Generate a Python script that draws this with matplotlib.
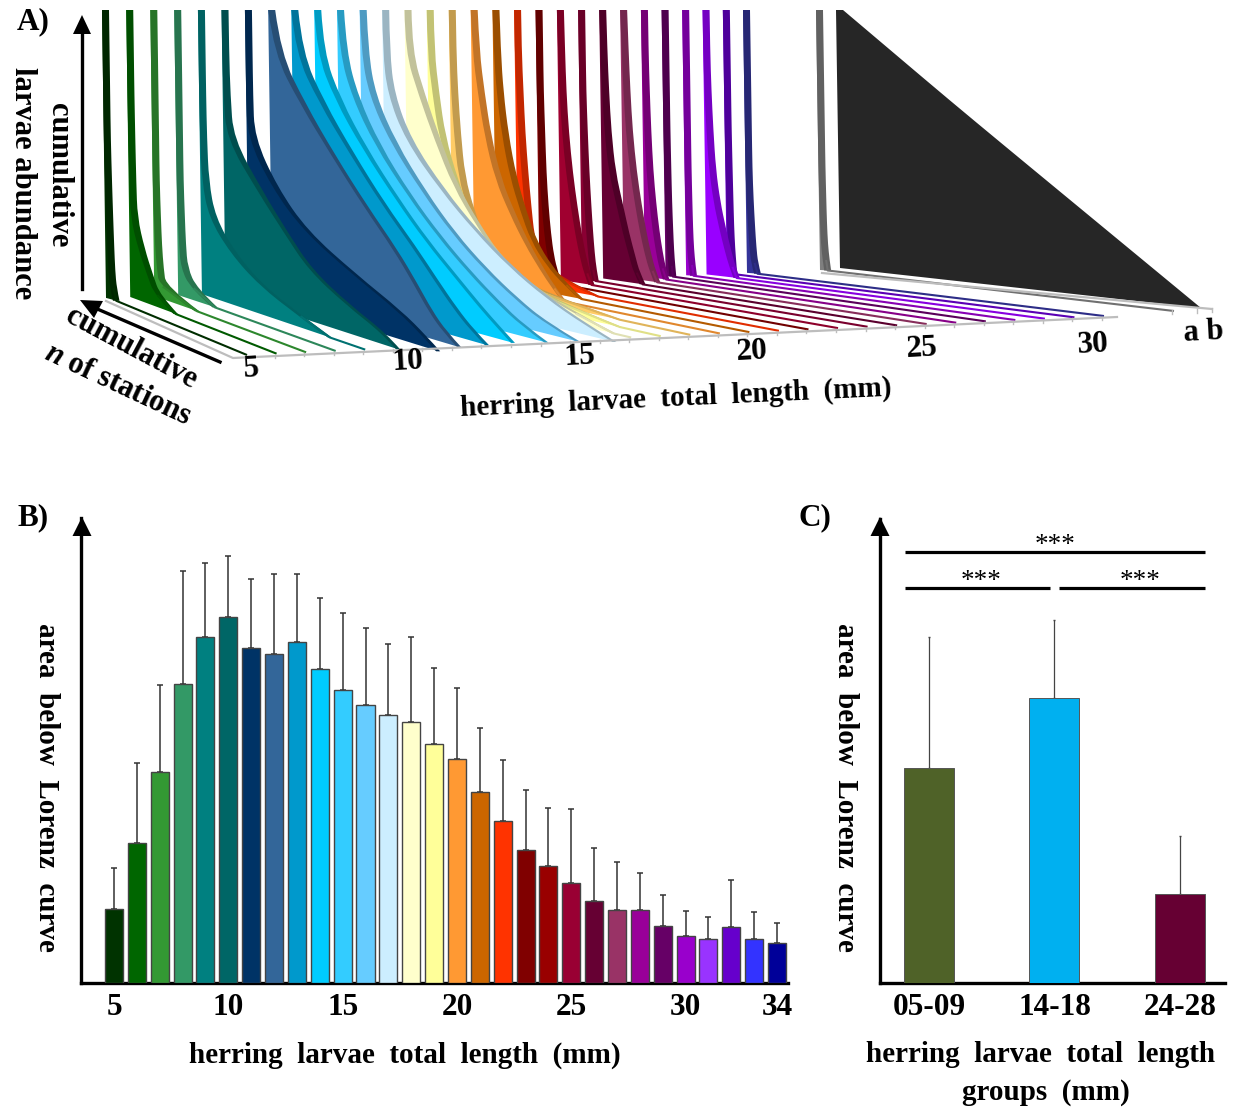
import matplotlib
matplotlib.use('Agg')
import matplotlib.pyplot as plt
from matplotlib.patches import PathPatch, Polygon
from matplotlib.path import Path
from matplotlib.colors import to_rgb

plt.rcParams['font.family'] = ['Liberation Serif']
plt.rcParams['font.weight'] = 'bold'
plt.rcParams['mathtext.fontset'] = 'custom'
plt.rcParams['mathtext.bfit'] = 'Liberation Serif:italic:bold'

# Panel B: area below Lorenz curve per length class, and upper end of the error bars
lengths = list(range(5, 35))
area_mean = [74, 140, 211, 299, 346, 366, 335, 329, 341, 314, 293, 278, 268, 261, 239,
             224, 191, 162, 133, 117, 100, 82, 73, 73, 57, 47, 44, 56, 44, 40]
area_upper = [115, 220, 298, 412, 420, 427, 404, 409, 409, 385, 370, 355, 339, 346, 315,
              295, 255, 223, 193, 175, 174, 135, 121, 110, 88, 72, 66, 103, 71, 60]
bar_colors = ['#003300', '#006600', '#339933', '#339966', '#008080', '#006666', '#003366',
              '#336699', '#0099cc', '#00ccff', '#33ccff', '#66ccff', '#cceeff', '#ffffcc',
              '#ffff99', '#ff9933', '#cc6600', '#ff3300', '#800000', '#990000', '#990033',
              '#660033', '#993366', '#990099', '#660066', '#9900cc', '#9933ff', '#6600cc',
              '#3333ff', '#000099']
b_ticks = [5, 10, 15, 20, 25, 30, 34]

# Panel C: grouped length classes
groups = ['05-09', '14-18', '24-28']
group_mean = [215, 285, 89]
group_upper = [346, 363, 147]
group_colors = ['#4f6228', '#00b0f0', '#660033']

# Panel A: one Lorenz curve per ribbon, depth along the station axis at each height
curve_height = [1, .85, .7, .55, .4, .28, .18, .1, .04, 0]
curve_depth = [
    [0, 0, 0, 0, .005, .01, .015, .02, .03, .05],
    [0, 0, 0, .002, .005, .01, .06, .12, .17, .3],
    [0, 0, 0, 0, 0, .005, .01, .02, .035, .27],
    [0, 0, 0, 0, 0, .005, .01, .02, .08, .22],
    [0, 0, 0, .002, .01, .05, .18, .36, .6, .78],
    [0, 0, .005, .02, .2, .36, .5, .72, .94, 1.02],
    [0, 0, 0, .005, .14, .32, .6, .86, 1.0, 1.08],
    [0, .03, .17, .34, .52, .68, .79, .87, .95, 1.03],
    [0, .02, .14, .3, .47, .63, .75, .85, .94, 1.02],
    [0, .01, .1, .24, .41, .56, .71, .83, .93, 1.0],
    [0, .01, .07, .18, .34, .49, .64, .78, .9, 1.02],
    [0, .005, .04, .14, .29, .43, .58, .73, .87, 1.03],
    [0, 0, .02, .1, .26, .42, .58, .75, .92, 1.06],
    [0, 0, .06, .13, .21, .31, .41, .56, .75, .92],
    [0, 0, .02, .045, .1, .16, .24, .36, .55, .82],
    [0, 0, .005, .015, .03, .07, .12, .2, .35, .7],
    [0, .005, .025, .05, .09, .15, .21, .27, .32, .36],
    [0, .003, .012, .03, .06, .1, .14, .2, .27, .33],
    [0, 0, .005, .01, .02, .03, .04, .06, .15, .3],
    [0, 0, 0, .003, .006, .012, .02, .03, .045, .06],
    [0, .002, .005, .012, .025, .04, .055, .07, .085, .1],
    [0, 0, 0, .003, .007, .012, .017, .022, .028, .035],
    [0, .002, .006, .012, .025, .05, .07, .09, .105, .125],
    [0, .003, .007, .013, .025, .04, .055, .07, .085, .1],
    [0, 0, .002, .005, .01, .018, .027, .037, .047, .058],
    [0, 0, 0, 0, .001, .002, .004, .006, .009, .012],
    [0, 0, 0, 0, 0, .001, .002, .004, .008, .012],
    [0, 0, .002, .006, .012, .024, .04, .055, .068, .08],
    [0, 0, 0, 0, .001, .002, .003, .005, .008, .01],
    [0, 0, 0, 0, 0, .002, .005, .008, .012, .02],
]
ribbon_colors = ['#003300', '#006600', '#339933', '#339966', '#008080', '#006666', '#003366',
                 '#336699', '#0099cc', '#00ccff', '#33ccff', '#66ccff', '#cceeff', '#ffffcc',
                 '#ffff99', '#ffcc66', '#ff9933', '#cc6600', '#ff3300', '#800000', '#a00030',
                 '#8a0033', '#660033', '#993366', '#990099', '#660066', '#9900cc', '#9900ff',
                 '#6600cc', '#333399']
gray_depth = [0, 0, 0, 0, 0, .001, .002, .004, .008, .012]
black_depth = [0, .15, .3, .45, .6, .72, .82, .9, .96, 1]
a_b_labels = 'a b'
a_ticks = ['5', '10', '15', '20', '25', '30']

fig = plt.figure(figsize=(12.37, 11.07), dpi=100)
W, H = 1237, 1107

# full-figure axes in pixels for the perspective panel and the labels
ov = fig.add_axes([0, 0, 1, 1])
ov.set_xlim(0, W)
ov.set_ylim(H, 0)
ov.axis('off')


def smooth(points):
    # quadratic segments through the midpoints, so the curve has no corners
    verts = [points[0]]
    codes = [Path.LINETO]
    for i in range(1, len(points) - 1):
        mid = ((points[i][0] + points[i + 1][0]) / 2, (points[i][1] + points[i + 1][1]) / 2)
        if i == len(points) - 2:
            mid = points[i + 1]
        verts += [points[i], mid]
        codes += [Path.CURVE3, Path.CURVE3]
    return verts, codes


def draw_ribbon(x_top, x_base, y_base, x_front, y_front, depth, color, z, shade=0.76):
    def project(t, h, shift=0):
        grow = (7 - 3 * min(1, t * 3)) * shift
        return (x_base + t * (x_front - x_base) + h * (x_top - x_base) + grow,
                y_base + t * (y_front - y_base) - h * (y_base - 10))

    down = list(zip(depth, curve_height))
    strip_color = tuple(c * shade for c in to_rgb(color))

    # side face
    v, c = smooth([project(t, h, .6) for t, h in down])
    verts = [(x_top, 10), (x_base, y_base)] + v[::-1] + [(x_top, 10)]
    codes = [Path.MOVETO, Path.LINETO, Path.LINETO] + c[:0:-1] + [Path.CLOSEPOLY]
    ov.add_patch(PathPatch(Path(verts, codes), fc=color, ec='none', zorder=z))

    # top surface of the curve
    right, c1 = smooth([project(t, h, 1) for t, h in down])
    left, c2 = smooth([project(t, h, 0) for t, h in down])
    verts = right + left[::-1] + [right[0]]
    codes = [Path.MOVETO] + c1[1:] + [Path.LINETO] + c2[:0:-1] + [Path.CLOSEPOLY]
    ov.add_patch(PathPatch(Path(verts, codes), fc=strip_color, ec='none', zorder=z + .5))

    # the part lying on the floor
    if depth[-1] < 1:
        tail = [project(depth[-2], curve_height[-2], .5), project(depth[-1], 0, .5), project(1, 0, .5)]
        tail_color = tuple((a + b) / 2 for a, b in zip(strip_color, to_rgb(color)))
        ov.plot(*zip(*tail), color=tail_color, lw=1.5, zorder=z + .6, solid_capstyle='butt')


n_rib = len(curve_depth)
front_ticks = []
for i in range(n_rib - 1, -1, -1):
    r = i / (n_rib - 1)
    s = 1.1 * r / (1 + .1 * r)
    x_top = 102 + 641 * s
    x_base = x_top + 4
    y_base = 298 - 28 * (x_base - 104) / 716
    x_front = 245 + 857 * r
    y_front = 355 - 39 * r
    front_ticks.append((x_front, y_front))
    draw_ribbon(x_top, x_base, y_base, x_front, y_front, curve_depth[i], ribbon_colors[i], 10 + n_rib - i)

draw_ribbon(816, 820, 270, 1172, 311, gray_depth, '#7f7f7f', 6)
draw_ribbon(836, 840, 268, 1197, 308, black_depth, '#262626', 5, shade=1)

# floor edges and tick marks of panel A
ov.plot([106, 233, 1117], [301, 358, 317], color='#bdbdbd', lw=1.6, zorder=50)
ov.plot([822, 1212], [273, 309], color='#bdbdbd', lw=1.6, zorder=50)
for x, y in front_ticks:
    ov.plot([x, x], [y + 1, y + 4], color='#bdbdbd', lw=1, zorder=50)
for x, y in [(1172, 310), (1197, 309), (1212, 308)]:
    ov.plot([x, x], [y, y + 4], color='#bdbdbd', lw=1, zorder=50)

# panel A arrows
ov.plot([82, 82], [289, 30], color='black', lw=2.4, zorder=60)
ov.add_patch(Polygon([(82, 15), (73, 34), (91, 34)], fc='black', ec='none', zorder=60))
ov.plot([220, 95], [362, 308], color='black', lw=2.4, zorder=60)
ov.add_patch(Polygon([(80, 300), (103, 301), (94, 318)], fc='black', ec='none', zorder=60))

FS = 21
TS = 22.5
for lab, x, y in zip(a_ticks, [251, 408, 580, 752, 922, 1093], [369, 362, 357, 352, 349, 345]):
    ov.text(x, y, lab, fontsize=TS, ha='center', va='center', rotation=3, zorder=70)
ov.text(1204, 332, a_b_labels, fontsize=22, ha='center', va='center', rotation=3, zorder=70)
ov.text(676, 398, 'herring  larvae  total  length  (mm)', fontsize=FS, ha='center', va='center', rotation=2.7)
ov.text(58, 175, 'cumulative', fontsize=22, rotation=-90, ha='center', va='center')
ov.text(22, 183, 'larvae abundance', fontsize=22, rotation=-90, ha='center', va='center')
ov.text(131, 348, 'cumulative', fontsize=22, rotation=-28, ha='center', va='center')
ov.text(118, 385, r'$\mathbfit{n}$ of stations', fontsize=22, rotation=-25, ha='center', va='center')
ov.text(17, 22, 'A)', fontsize=TS, ha='left', va='center')
ov.text(17, 518, 'B)', fontsize=TS, ha='left', va='center')
ov.text(798, 518, 'C)', fontsize=TS, ha='left', va='center')

# arrow heads of panels B and C
for x in (82, 880):
    ov.add_patch(Polygon([(x, 517), (x - 9.5, 536), (x + 9.5, 536)], fc='black', ec='none', zorder=60))

# Panel B
ax_b = fig.add_axes([81 / W, 1 - 983 / H, (788 - 81) / W, (983 - 518) / H])
ax_b.patch.set_alpha(0)
ax_b.set_xlim(3.556, 34.48)
ax_b.set_ylim(0, 465)
ax_b.bar(lengths, area_mean, width=.79, color=bar_colors, edgecolor='#444444', linewidth=1, zorder=3)
ax_b.errorbar(lengths, area_mean, yerr=[[0] * len(lengths), [u - m for u, m in zip(area_upper, area_mean)]],
              fmt='none', ecolor='#333333', elinewidth=1.1, capsize=2, capthick=1.1, zorder=2)
ax_b.set_xticks(b_ticks)
ax_b.set_xticklabels([str(t) for t in b_ticks], fontsize=TS)
ax_b.set_yticks([])
ax_b.tick_params(axis='x', length=0, pad=7)
for side in ('top', 'right'):
    ax_b.spines[side].set_visible(False)
for side in ('left', 'bottom'):
    ax_b.spines[side].set_linewidth(2.4)
ov.text(405, 1055, 'herring  larvae  total  length  (mm)', fontsize=FS, ha='center', va='center')
ov.text(46, 787, 'area  below  Lorenz  curve', fontsize=FS, rotation=-90, ha='center', va='center')

# Panel C
ax_c = fig.add_axes([880 / W, 1 - 983 / H, (1225 - 880) / W, (983 - 519) / H])
ax_c.patch.set_alpha(0)
ax_c.set_xlim(-.39, 2.359)
ax_c.set_ylim(0, 464)
xc = list(range(len(groups)))
ax_c.bar(xc, group_mean, width=.398, color=group_colors, edgecolor='#555555', linewidth=.7, zorder=3)
ax_c.errorbar(xc, group_mean, yerr=[[0] * 3, [u - m for u, m in zip(group_upper, group_mean)]],
              fmt='none', ecolor='#444444', elinewidth=.9, capsize=1, capthick=1, zorder=2)
ax_c.set_xticks(xc)
ax_c.set_xticklabels(groups, fontsize=TS)
ax_c.set_yticks([])
ax_c.tick_params(axis='x', length=0, pad=7)
for side in ('top', 'right'):
    ax_c.spines[side].set_visible(False)
for side in ('left', 'bottom'):
    ax_c.spines[side].set_linewidth(2.4)
ov.text(1041, 1055, 'herring  larvae  total  length', fontsize=FS, ha='center', va='center')
ov.text(1046, 1092, 'groups  (mm)', fontsize=FS, ha='center', va='center')
ov.text(845, 787, 'area  below  Lorenz  curve', fontsize=FS, rotation=-90, ha='center', va='center')

# significance brackets
for x0, x1, y, tx in [(905, 1205, 552, 1055), (905, 1050, 588, 981), (1059, 1205, 588, 1140)]:
    ov.plot([x0, x1], [y, y], color='black', lw=2.3, zorder=60, solid_capstyle='butt')
    ov.text(tx, y - 7, '***', fontsize=19.5, fontweight='normal', ha='center', va='center')

fig.savefig('out.png', dpi=100)
